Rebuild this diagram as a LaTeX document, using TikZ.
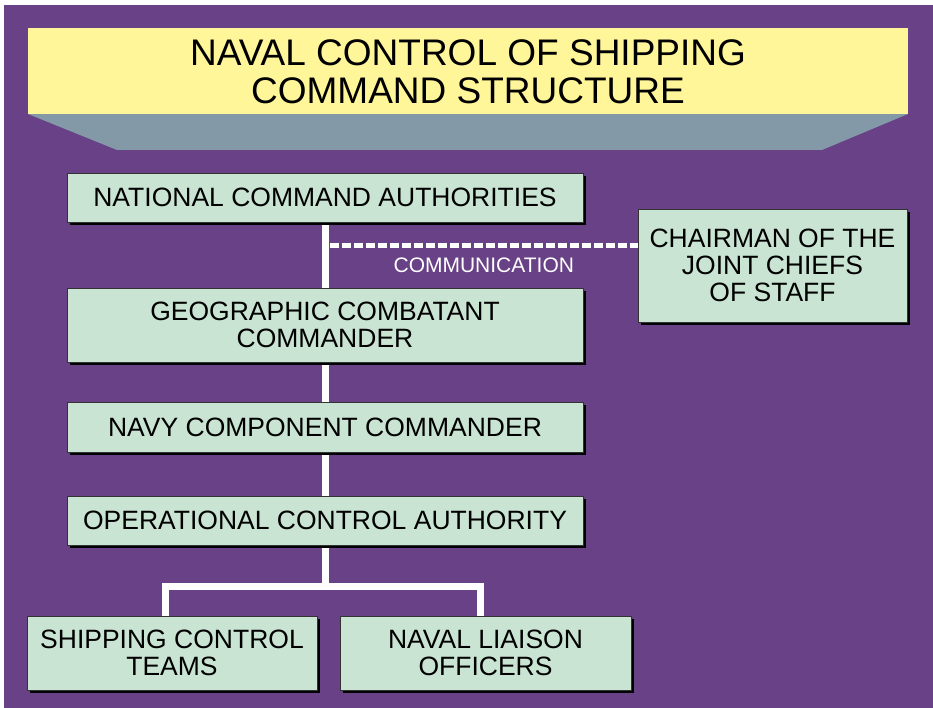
\documentclass[tikz,border=0pt]{standalone}
\usepackage{fontspec}
\setmainfont{Liberation Sans}
\usetikzlibrary{shadows,backgrounds}

\definecolor{bgpurple}{RGB}{104,65,134}
\definecolor{titleyellow}{RGB}{255,246,153}
\definecolor{bandgray}{RGB}{131,153,168}
\definecolor{boxgreen}{RGB}{201,228,211}

\tikzset{
    cmdbox/.style={draw=black!80, line width=0.8pt, fill=boxgreen, align=center,
        inner sep=0pt, font=\fontsize{26.5}{27}\selectfont,
        drop shadow={shadow xshift=3pt, shadow yshift=-3pt, fill=black, opacity=1}},
    spine/.style={white, line width=7pt},
    commline/.style={white, line width=5pt, dash pattern=on 9pt off 3pt}
}

\begin{document}
\begin{tikzpicture}[x=1pt, y=-1pt]
    \useasboundingbox (0,0) rectangle (933,708);

    % Title banner
    \fill[bandgray] (28,114) -- (908,114) -- (822,150) -- (117,150) -- cycle;
    \fill[titleyellow] (28,28) rectangle (908,114);
    \node[align=center, font=\fontsize{37}{37.5}\selectfont] (title) at (468,72)
        {NAVAL CONTROL OF SHIPPING\\COMMAND STRUCTURE};

    % Command boxes
    \node[cmdbox, minimum width=516pt, minimum height=49pt] (nca) at (325,197.5)
        {NATIONAL COMMAND AUTHORITIES};
    \node[cmdbox, minimum width=516pt, minimum height=74pt] (gcc) at (325,325)
        {GEOGRAPHIC COMBATANT\\COMMANDER};
    \node[cmdbox, minimum width=516pt, minimum height=50pt] (ncc) at (325,427)
        {NAVY COMPONENT COMMANDER};
    \node[cmdbox, minimum width=516pt, minimum height=49pt] (oca) at (325,520.5)
        {OPERATIONAL CONTROL AUTHORITY};
    \node[cmdbox, minimum width=269pt, minimum height=113pt] (cjcs) at (772.5,265.5)
        {CHAIRMAN OF THE\\JOINT CHIEFS\\OF STAFF};
    \node[cmdbox, minimum width=290pt, minimum height=74pt] (sct) at (172,653)
        {SHIPPING CONTROL\\TEAMS};
    \node[cmdbox, minimum width=291pt, minimum height=74pt] (nlo) at (485.5,653)
        {NAVAL LIAISON\\OFFICERS};

    % Define points
    \coordinate (comm) at (330,246);
    \coordinate (bl) at (165.5,586);
    \coordinate (br) at (480.5,586);

    % Background and connectors behind the boxes
    \begin{scope}[on background layer]
        \fill[white] (0,0) rectangle (933,708);
        \fill[bgpurple] (4,5) rectangle (933,708);
        \foreach \a/\b in {nca/gcc, gcc/ncc, ncc/oca} {
            \draw[spine] (\a) -- (\b);
        }
        \draw[spine] (oca) -- (oca |- bl);
        \draw[spine] (bl |- sct.north) -- (bl) -- (br) -- (br |- nlo.north);
    \end{scope}

    % Communication link
    \draw[commline] (comm) -- (comm -| cjcs.west)
        node[midway, below=9pt, inner sep=0pt, text=white,
             font=\fontsize{21}{22}\selectfont] (commtext) {COMMUNICATION};
\end{tikzpicture}
\end{document}
